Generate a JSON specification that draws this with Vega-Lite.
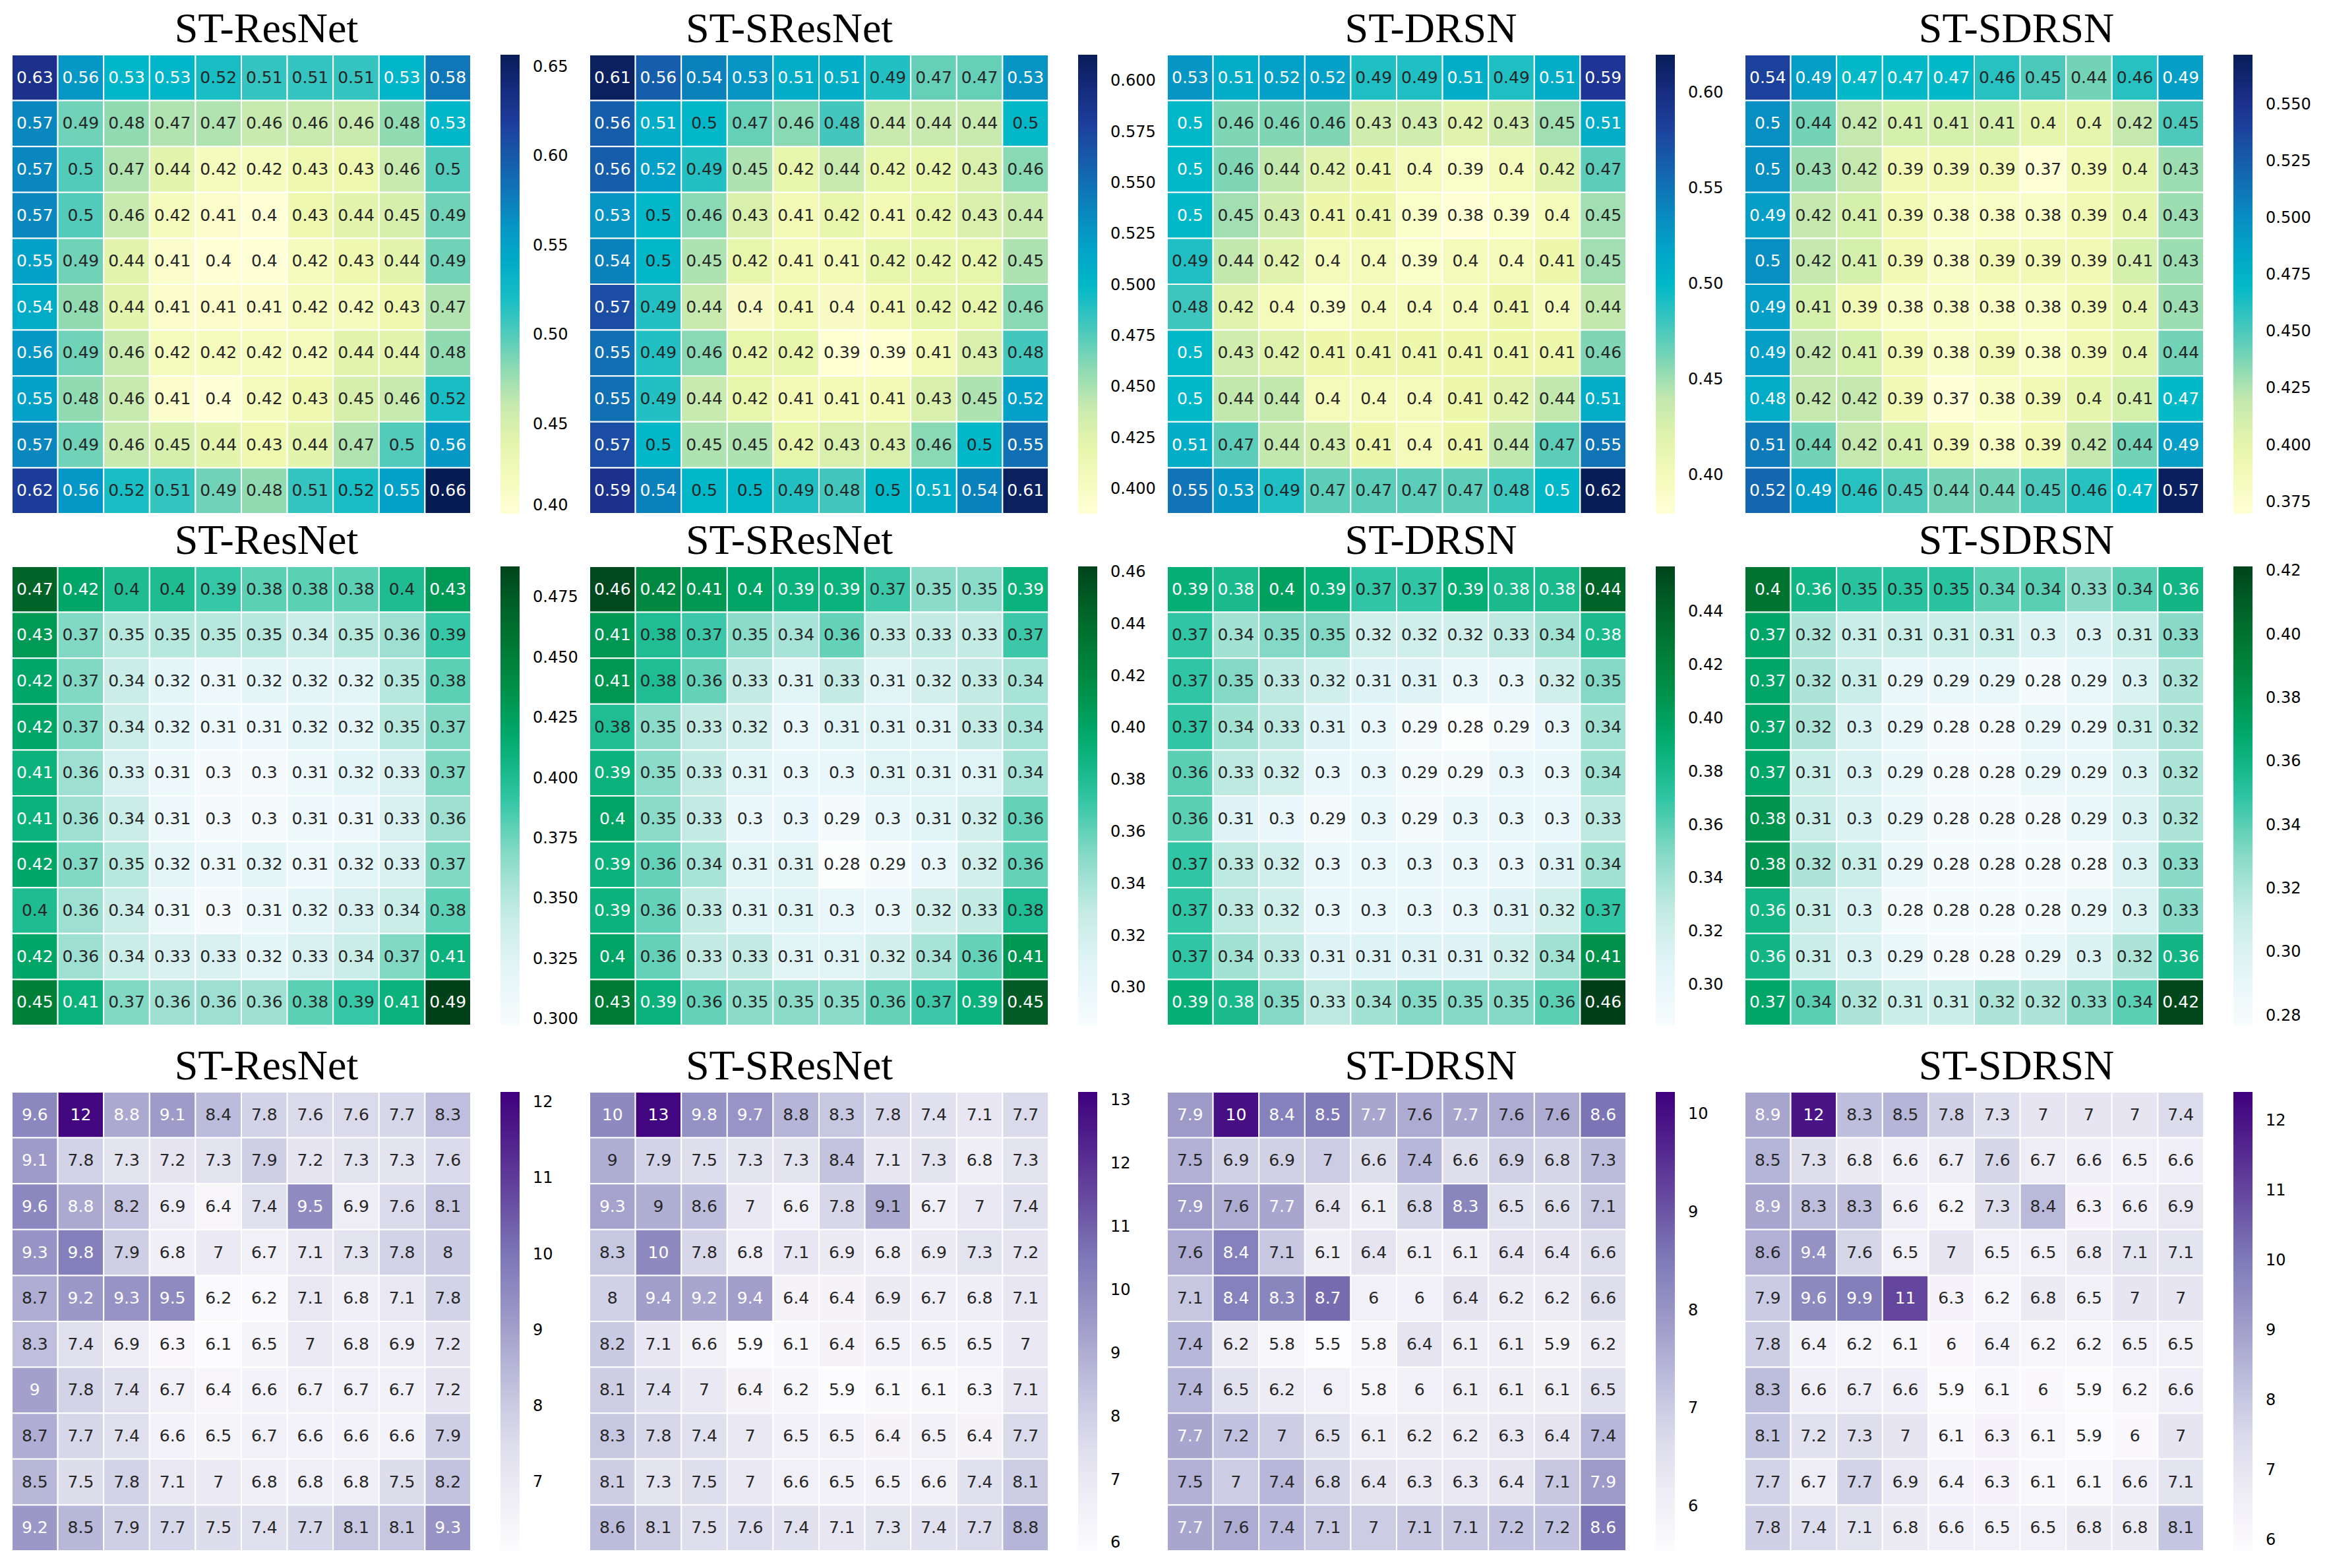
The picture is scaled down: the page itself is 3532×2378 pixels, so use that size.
{
"$schema":"https://vega.github.io/schema/vega-lite/v6.json",
"background":"white",
"padding":{"left":17,"top":13,"right":5,"bottom":5},
"datasets":{
"a1":[{"r":0,"c":0,"v":0.63},{"r":0,"c":1,"v":0.56},{"r":0,"c":2,"v":0.53},{"r":0,"c":3,"v":0.53},{"r":0,"c":4,"v":0.52},{"r":0,"c":5,"v":0.51},{"r":0,"c":6,"v":0.51},{"r":0,"c":7,"v":0.51},{"r":0,"c":8,"v":0.53},{"r":0,"c":9,"v":0.58},
{"r":1,"c":0,"v":0.57},{"r":1,"c":1,"v":0.49},{"r":1,"c":2,"v":0.48},{"r":1,"c":3,"v":0.47},{"r":1,"c":4,"v":0.47},{"r":1,"c":5,"v":0.46},{"r":1,"c":6,"v":0.46},{"r":1,"c":7,"v":0.46},{"r":1,"c":8,"v":0.48},{"r":1,"c":9,"v":0.53},
{"r":2,"c":0,"v":0.57},{"r":2,"c":1,"v":0.5},{"r":2,"c":2,"v":0.47},{"r":2,"c":3,"v":0.44},{"r":2,"c":4,"v":0.42},{"r":2,"c":5,"v":0.42},{"r":2,"c":6,"v":0.43},{"r":2,"c":7,"v":0.43},{"r":2,"c":8,"v":0.46},{"r":2,"c":9,"v":0.5},
{"r":3,"c":0,"v":0.57},{"r":3,"c":1,"v":0.5},{"r":3,"c":2,"v":0.46},{"r":3,"c":3,"v":0.42},{"r":3,"c":4,"v":0.41},{"r":3,"c":5,"v":0.4},{"r":3,"c":6,"v":0.43},{"r":3,"c":7,"v":0.44},{"r":3,"c":8,"v":0.45},{"r":3,"c":9,"v":0.49},
{"r":4,"c":0,"v":0.55},{"r":4,"c":1,"v":0.49},{"r":4,"c":2,"v":0.44},{"r":4,"c":3,"v":0.41},{"r":4,"c":4,"v":0.4},{"r":4,"c":5,"v":0.4},{"r":4,"c":6,"v":0.42},{"r":4,"c":7,"v":0.43},{"r":4,"c":8,"v":0.44},{"r":4,"c":9,"v":0.49},
{"r":5,"c":0,"v":0.54},{"r":5,"c":1,"v":0.48},{"r":5,"c":2,"v":0.44},{"r":5,"c":3,"v":0.41},{"r":5,"c":4,"v":0.41},{"r":5,"c":5,"v":0.41},{"r":5,"c":6,"v":0.42},{"r":5,"c":7,"v":0.42},{"r":5,"c":8,"v":0.43},{"r":5,"c":9,"v":0.47},
{"r":6,"c":0,"v":0.56},{"r":6,"c":1,"v":0.49},{"r":6,"c":2,"v":0.46},{"r":6,"c":3,"v":0.42},{"r":6,"c":4,"v":0.42},{"r":6,"c":5,"v":0.42},{"r":6,"c":6,"v":0.42},{"r":6,"c":7,"v":0.44},{"r":6,"c":8,"v":0.44},{"r":6,"c":9,"v":0.48},
{"r":7,"c":0,"v":0.55},{"r":7,"c":1,"v":0.48},{"r":7,"c":2,"v":0.46},{"r":7,"c":3,"v":0.41},{"r":7,"c":4,"v":0.4},{"r":7,"c":5,"v":0.42},{"r":7,"c":6,"v":0.43},{"r":7,"c":7,"v":0.45},{"r":7,"c":8,"v":0.46},{"r":7,"c":9,"v":0.52},
{"r":8,"c":0,"v":0.57},{"r":8,"c":1,"v":0.49},{"r":8,"c":2,"v":0.46},{"r":8,"c":3,"v":0.45},{"r":8,"c":4,"v":0.44},{"r":8,"c":5,"v":0.43},{"r":8,"c":6,"v":0.44},{"r":8,"c":7,"v":0.47},{"r":8,"c":8,"v":0.5},{"r":8,"c":9,"v":0.56},
{"r":9,"c":0,"v":0.62},{"r":9,"c":1,"v":0.56},{"r":9,"c":2,"v":0.52},{"r":9,"c":3,"v":0.51},{"r":9,"c":4,"v":0.49},{"r":9,"c":5,"v":0.48},{"r":9,"c":6,"v":0.51},{"r":9,"c":7,"v":0.52},{"r":9,"c":8,"v":0.55},{"r":9,"c":9,"v":0.66}],
"a2":[{"r":0,"c":0,"v":0.61},{"r":0,"c":1,"v":0.56},{"r":0,"c":2,"v":0.54},{"r":0,"c":3,"v":0.53},{"r":0,"c":4,"v":0.51},{"r":0,"c":5,"v":0.51},{"r":0,"c":6,"v":0.49},{"r":0,"c":7,"v":0.47},{"r":0,"c":8,"v":0.47},{"r":0,"c":9,"v":0.53},
{"r":1,"c":0,"v":0.56},{"r":1,"c":1,"v":0.51},{"r":1,"c":2,"v":0.5},{"r":1,"c":3,"v":0.47},{"r":1,"c":4,"v":0.46},{"r":1,"c":5,"v":0.48},{"r":1,"c":6,"v":0.44},{"r":1,"c":7,"v":0.44},{"r":1,"c":8,"v":0.44},{"r":1,"c":9,"v":0.5},
{"r":2,"c":0,"v":0.56},{"r":2,"c":1,"v":0.52},{"r":2,"c":2,"v":0.49},{"r":2,"c":3,"v":0.45},{"r":2,"c":4,"v":0.42},{"r":2,"c":5,"v":0.44},{"r":2,"c":6,"v":0.42},{"r":2,"c":7,"v":0.42},{"r":2,"c":8,"v":0.43},{"r":2,"c":9,"v":0.46},
{"r":3,"c":0,"v":0.53},{"r":3,"c":1,"v":0.5},{"r":3,"c":2,"v":0.46},{"r":3,"c":3,"v":0.43},{"r":3,"c":4,"v":0.41},{"r":3,"c":5,"v":0.42},{"r":3,"c":6,"v":0.41},{"r":3,"c":7,"v":0.42},{"r":3,"c":8,"v":0.43},{"r":3,"c":9,"v":0.44},
{"r":4,"c":0,"v":0.54},{"r":4,"c":1,"v":0.5},{"r":4,"c":2,"v":0.45},{"r":4,"c":3,"v":0.42},{"r":4,"c":4,"v":0.41},{"r":4,"c":5,"v":0.41},{"r":4,"c":6,"v":0.42},{"r":4,"c":7,"v":0.42},{"r":4,"c":8,"v":0.42},{"r":4,"c":9,"v":0.45},
{"r":5,"c":0,"v":0.57},{"r":5,"c":1,"v":0.49},{"r":5,"c":2,"v":0.44},{"r":5,"c":3,"v":0.4},{"r":5,"c":4,"v":0.41},{"r":5,"c":5,"v":0.4},{"r":5,"c":6,"v":0.41},{"r":5,"c":7,"v":0.42},{"r":5,"c":8,"v":0.42},{"r":5,"c":9,"v":0.46},
{"r":6,"c":0,"v":0.55},{"r":6,"c":1,"v":0.49},{"r":6,"c":2,"v":0.46},{"r":6,"c":3,"v":0.42},{"r":6,"c":4,"v":0.42},{"r":6,"c":5,"v":0.39},{"r":6,"c":6,"v":0.39},{"r":6,"c":7,"v":0.41},{"r":6,"c":8,"v":0.43},{"r":6,"c":9,"v":0.48},
{"r":7,"c":0,"v":0.55},{"r":7,"c":1,"v":0.49},{"r":7,"c":2,"v":0.44},{"r":7,"c":3,"v":0.42},{"r":7,"c":4,"v":0.41},{"r":7,"c":5,"v":0.41},{"r":7,"c":6,"v":0.41},{"r":7,"c":7,"v":0.43},{"r":7,"c":8,"v":0.45},{"r":7,"c":9,"v":0.52},
{"r":8,"c":0,"v":0.57},{"r":8,"c":1,"v":0.5},{"r":8,"c":2,"v":0.45},{"r":8,"c":3,"v":0.45},{"r":8,"c":4,"v":0.42},{"r":8,"c":5,"v":0.43},{"r":8,"c":6,"v":0.43},{"r":8,"c":7,"v":0.46},{"r":8,"c":8,"v":0.5},{"r":8,"c":9,"v":0.55},
{"r":9,"c":0,"v":0.59},{"r":9,"c":1,"v":0.54},{"r":9,"c":2,"v":0.5},{"r":9,"c":3,"v":0.5},{"r":9,"c":4,"v":0.49},{"r":9,"c":5,"v":0.48},{"r":9,"c":6,"v":0.5},{"r":9,"c":7,"v":0.51},{"r":9,"c":8,"v":0.54},{"r":9,"c":9,"v":0.61}],
"a3":[{"r":0,"c":0,"v":0.53},{"r":0,"c":1,"v":0.51},{"r":0,"c":2,"v":0.52},{"r":0,"c":3,"v":0.52},{"r":0,"c":4,"v":0.49},{"r":0,"c":5,"v":0.49},{"r":0,"c":6,"v":0.51},{"r":0,"c":7,"v":0.49},{"r":0,"c":8,"v":0.51},{"r":0,"c":9,"v":0.59},
{"r":1,"c":0,"v":0.5},{"r":1,"c":1,"v":0.46},{"r":1,"c":2,"v":0.46},{"r":1,"c":3,"v":0.46},{"r":1,"c":4,"v":0.43},{"r":1,"c":5,"v":0.43},{"r":1,"c":6,"v":0.42},{"r":1,"c":7,"v":0.43},{"r":1,"c":8,"v":0.45},{"r":1,"c":9,"v":0.51},
{"r":2,"c":0,"v":0.5},{"r":2,"c":1,"v":0.46},{"r":2,"c":2,"v":0.44},{"r":2,"c":3,"v":0.42},{"r":2,"c":4,"v":0.41},{"r":2,"c":5,"v":0.4},{"r":2,"c":6,"v":0.39},{"r":2,"c":7,"v":0.4},{"r":2,"c":8,"v":0.42},{"r":2,"c":9,"v":0.47},
{"r":3,"c":0,"v":0.5},{"r":3,"c":1,"v":0.45},{"r":3,"c":2,"v":0.43},{"r":3,"c":3,"v":0.41},{"r":3,"c":4,"v":0.41},{"r":3,"c":5,"v":0.39},{"r":3,"c":6,"v":0.38},{"r":3,"c":7,"v":0.39},{"r":3,"c":8,"v":0.4},{"r":3,"c":9,"v":0.45},
{"r":4,"c":0,"v":0.49},{"r":4,"c":1,"v":0.44},{"r":4,"c":2,"v":0.42},{"r":4,"c":3,"v":0.4},{"r":4,"c":4,"v":0.4},{"r":4,"c":5,"v":0.39},{"r":4,"c":6,"v":0.4},{"r":4,"c":7,"v":0.4},{"r":4,"c":8,"v":0.41},{"r":4,"c":9,"v":0.45},
{"r":5,"c":0,"v":0.48},{"r":5,"c":1,"v":0.42},{"r":5,"c":2,"v":0.4},{"r":5,"c":3,"v":0.39},{"r":5,"c":4,"v":0.4},{"r":5,"c":5,"v":0.4},{"r":5,"c":6,"v":0.4},{"r":5,"c":7,"v":0.41},{"r":5,"c":8,"v":0.4},{"r":5,"c":9,"v":0.44},
{"r":6,"c":0,"v":0.5},{"r":6,"c":1,"v":0.43},{"r":6,"c":2,"v":0.42},{"r":6,"c":3,"v":0.41},{"r":6,"c":4,"v":0.41},{"r":6,"c":5,"v":0.41},{"r":6,"c":6,"v":0.41},{"r":6,"c":7,"v":0.41},{"r":6,"c":8,"v":0.41},{"r":6,"c":9,"v":0.46},
{"r":7,"c":0,"v":0.5},{"r":7,"c":1,"v":0.44},{"r":7,"c":2,"v":0.44},{"r":7,"c":3,"v":0.4},{"r":7,"c":4,"v":0.4},{"r":7,"c":5,"v":0.4},{"r":7,"c":6,"v":0.41},{"r":7,"c":7,"v":0.42},{"r":7,"c":8,"v":0.44},{"r":7,"c":9,"v":0.51},
{"r":8,"c":0,"v":0.51},{"r":8,"c":1,"v":0.47},{"r":8,"c":2,"v":0.44},{"r":8,"c":3,"v":0.43},{"r":8,"c":4,"v":0.41},{"r":8,"c":5,"v":0.4},{"r":8,"c":6,"v":0.41},{"r":8,"c":7,"v":0.44},{"r":8,"c":8,"v":0.47},{"r":8,"c":9,"v":0.55},
{"r":9,"c":0,"v":0.55},{"r":9,"c":1,"v":0.53},{"r":9,"c":2,"v":0.49},{"r":9,"c":3,"v":0.47},{"r":9,"c":4,"v":0.47},{"r":9,"c":5,"v":0.47},{"r":9,"c":6,"v":0.47},{"r":9,"c":7,"v":0.48},{"r":9,"c":8,"v":0.5},{"r":9,"c":9,"v":0.62}],
"a4":[{"r":0,"c":0,"v":0.54},{"r":0,"c":1,"v":0.49},{"r":0,"c":2,"v":0.47},{"r":0,"c":3,"v":0.47},{"r":0,"c":4,"v":0.47},{"r":0,"c":5,"v":0.46},{"r":0,"c":6,"v":0.45},{"r":0,"c":7,"v":0.44},{"r":0,"c":8,"v":0.46},{"r":0,"c":9,"v":0.49},
{"r":1,"c":0,"v":0.5},{"r":1,"c":1,"v":0.44},{"r":1,"c":2,"v":0.42},{"r":1,"c":3,"v":0.41},{"r":1,"c":4,"v":0.41},{"r":1,"c":5,"v":0.41},{"r":1,"c":6,"v":0.4},{"r":1,"c":7,"v":0.4},{"r":1,"c":8,"v":0.42},{"r":1,"c":9,"v":0.45},
{"r":2,"c":0,"v":0.5},{"r":2,"c":1,"v":0.43},{"r":2,"c":2,"v":0.42},{"r":2,"c":3,"v":0.39},{"r":2,"c":4,"v":0.39},{"r":2,"c":5,"v":0.39},{"r":2,"c":6,"v":0.37},{"r":2,"c":7,"v":0.39},{"r":2,"c":8,"v":0.4},{"r":2,"c":9,"v":0.43},
{"r":3,"c":0,"v":0.49},{"r":3,"c":1,"v":0.42},{"r":3,"c":2,"v":0.41},{"r":3,"c":3,"v":0.39},{"r":3,"c":4,"v":0.38},{"r":3,"c":5,"v":0.38},{"r":3,"c":6,"v":0.38},{"r":3,"c":7,"v":0.39},{"r":3,"c":8,"v":0.4},{"r":3,"c":9,"v":0.43},
{"r":4,"c":0,"v":0.5},{"r":4,"c":1,"v":0.42},{"r":4,"c":2,"v":0.41},{"r":4,"c":3,"v":0.39},{"r":4,"c":4,"v":0.38},{"r":4,"c":5,"v":0.39},{"r":4,"c":6,"v":0.39},{"r":4,"c":7,"v":0.39},{"r":4,"c":8,"v":0.41},{"r":4,"c":9,"v":0.43},
{"r":5,"c":0,"v":0.49},{"r":5,"c":1,"v":0.41},{"r":5,"c":2,"v":0.39},{"r":5,"c":3,"v":0.38},{"r":5,"c":4,"v":0.38},{"r":5,"c":5,"v":0.38},{"r":5,"c":6,"v":0.38},{"r":5,"c":7,"v":0.39},{"r":5,"c":8,"v":0.4},{"r":5,"c":9,"v":0.43},
{"r":6,"c":0,"v":0.49},{"r":6,"c":1,"v":0.42},{"r":6,"c":2,"v":0.41},{"r":6,"c":3,"v":0.39},{"r":6,"c":4,"v":0.38},{"r":6,"c":5,"v":0.39},{"r":6,"c":6,"v":0.38},{"r":6,"c":7,"v":0.39},{"r":6,"c":8,"v":0.4},{"r":6,"c":9,"v":0.44},
{"r":7,"c":0,"v":0.48},{"r":7,"c":1,"v":0.42},{"r":7,"c":2,"v":0.42},{"r":7,"c":3,"v":0.39},{"r":7,"c":4,"v":0.37},{"r":7,"c":5,"v":0.38},{"r":7,"c":6,"v":0.39},{"r":7,"c":7,"v":0.4},{"r":7,"c":8,"v":0.41},{"r":7,"c":9,"v":0.47},
{"r":8,"c":0,"v":0.51},{"r":8,"c":1,"v":0.44},{"r":8,"c":2,"v":0.42},{"r":8,"c":3,"v":0.41},{"r":8,"c":4,"v":0.39},{"r":8,"c":5,"v":0.38},{"r":8,"c":6,"v":0.39},{"r":8,"c":7,"v":0.42},{"r":8,"c":8,"v":0.44},{"r":8,"c":9,"v":0.49},
{"r":9,"c":0,"v":0.52},{"r":9,"c":1,"v":0.49},{"r":9,"c":2,"v":0.46},{"r":9,"c":3,"v":0.45},{"r":9,"c":4,"v":0.44},{"r":9,"c":5,"v":0.44},{"r":9,"c":6,"v":0.45},{"r":9,"c":7,"v":0.46},{"r":9,"c":8,"v":0.47},{"r":9,"c":9,"v":0.57}],
"b1":[{"r":0,"c":0,"v":0.47},{"r":0,"c":1,"v":0.42},{"r":0,"c":2,"v":0.4},{"r":0,"c":3,"v":0.4},{"r":0,"c":4,"v":0.39},{"r":0,"c":5,"v":0.38},{"r":0,"c":6,"v":0.38},{"r":0,"c":7,"v":0.38},{"r":0,"c":8,"v":0.4},{"r":0,"c":9,"v":0.43},
{"r":1,"c":0,"v":0.43},{"r":1,"c":1,"v":0.37},{"r":1,"c":2,"v":0.35},{"r":1,"c":3,"v":0.35},{"r":1,"c":4,"v":0.35},{"r":1,"c":5,"v":0.35},{"r":1,"c":6,"v":0.34},{"r":1,"c":7,"v":0.35},{"r":1,"c":8,"v":0.36},{"r":1,"c":9,"v":0.39},
{"r":2,"c":0,"v":0.42},{"r":2,"c":1,"v":0.37},{"r":2,"c":2,"v":0.34},{"r":2,"c":3,"v":0.32},{"r":2,"c":4,"v":0.31},{"r":2,"c":5,"v":0.32},{"r":2,"c":6,"v":0.32},{"r":2,"c":7,"v":0.32},{"r":2,"c":8,"v":0.35},{"r":2,"c":9,"v":0.38},
{"r":3,"c":0,"v":0.42},{"r":3,"c":1,"v":0.37},{"r":3,"c":2,"v":0.34},{"r":3,"c":3,"v":0.32},{"r":3,"c":4,"v":0.31},{"r":3,"c":5,"v":0.31},{"r":3,"c":6,"v":0.32},{"r":3,"c":7,"v":0.32},{"r":3,"c":8,"v":0.35},{"r":3,"c":9,"v":0.37},
{"r":4,"c":0,"v":0.41},{"r":4,"c":1,"v":0.36},{"r":4,"c":2,"v":0.33},{"r":4,"c":3,"v":0.31},{"r":4,"c":4,"v":0.3},{"r":4,"c":5,"v":0.3},{"r":4,"c":6,"v":0.31},{"r":4,"c":7,"v":0.32},{"r":4,"c":8,"v":0.33},{"r":4,"c":9,"v":0.37},
{"r":5,"c":0,"v":0.41},{"r":5,"c":1,"v":0.36},{"r":5,"c":2,"v":0.34},{"r":5,"c":3,"v":0.31},{"r":5,"c":4,"v":0.3},{"r":5,"c":5,"v":0.3},{"r":5,"c":6,"v":0.31},{"r":5,"c":7,"v":0.31},{"r":5,"c":8,"v":0.33},{"r":5,"c":9,"v":0.36},
{"r":6,"c":0,"v":0.42},{"r":6,"c":1,"v":0.37},{"r":6,"c":2,"v":0.35},{"r":6,"c":3,"v":0.32},{"r":6,"c":4,"v":0.31},{"r":6,"c":5,"v":0.32},{"r":6,"c":6,"v":0.31},{"r":6,"c":7,"v":0.32},{"r":6,"c":8,"v":0.33},{"r":6,"c":9,"v":0.37},
{"r":7,"c":0,"v":0.4},{"r":7,"c":1,"v":0.36},{"r":7,"c":2,"v":0.34},{"r":7,"c":3,"v":0.31},{"r":7,"c":4,"v":0.3},{"r":7,"c":5,"v":0.31},{"r":7,"c":6,"v":0.32},{"r":7,"c":7,"v":0.33},{"r":7,"c":8,"v":0.34},{"r":7,"c":9,"v":0.38},
{"r":8,"c":0,"v":0.42},{"r":8,"c":1,"v":0.36},{"r":8,"c":2,"v":0.34},{"r":8,"c":3,"v":0.33},{"r":8,"c":4,"v":0.33},{"r":8,"c":5,"v":0.32},{"r":8,"c":6,"v":0.33},{"r":8,"c":7,"v":0.34},{"r":8,"c":8,"v":0.37},{"r":8,"c":9,"v":0.41},
{"r":9,"c":0,"v":0.45},{"r":9,"c":1,"v":0.41},{"r":9,"c":2,"v":0.37},{"r":9,"c":3,"v":0.36},{"r":9,"c":4,"v":0.36},{"r":9,"c":5,"v":0.36},{"r":9,"c":6,"v":0.38},{"r":9,"c":7,"v":0.39},{"r":9,"c":8,"v":0.41},{"r":9,"c":9,"v":0.49}],
"b2":[{"r":0,"c":0,"v":0.46},{"r":0,"c":1,"v":0.42},{"r":0,"c":2,"v":0.41},{"r":0,"c":3,"v":0.4},{"r":0,"c":4,"v":0.39},{"r":0,"c":5,"v":0.39},{"r":0,"c":6,"v":0.37},{"r":0,"c":7,"v":0.35},{"r":0,"c":8,"v":0.35},{"r":0,"c":9,"v":0.39},
{"r":1,"c":0,"v":0.41},{"r":1,"c":1,"v":0.38},{"r":1,"c":2,"v":0.37},{"r":1,"c":3,"v":0.35},{"r":1,"c":4,"v":0.34},{"r":1,"c":5,"v":0.36},{"r":1,"c":6,"v":0.33},{"r":1,"c":7,"v":0.33},{"r":1,"c":8,"v":0.33},{"r":1,"c":9,"v":0.37},
{"r":2,"c":0,"v":0.41},{"r":2,"c":1,"v":0.38},{"r":2,"c":2,"v":0.36},{"r":2,"c":3,"v":0.33},{"r":2,"c":4,"v":0.31},{"r":2,"c":5,"v":0.33},{"r":2,"c":6,"v":0.31},{"r":2,"c":7,"v":0.32},{"r":2,"c":8,"v":0.33},{"r":2,"c":9,"v":0.34},
{"r":3,"c":0,"v":0.38},{"r":3,"c":1,"v":0.35},{"r":3,"c":2,"v":0.33},{"r":3,"c":3,"v":0.32},{"r":3,"c":4,"v":0.3},{"r":3,"c":5,"v":0.31},{"r":3,"c":6,"v":0.31},{"r":3,"c":7,"v":0.31},{"r":3,"c":8,"v":0.33},{"r":3,"c":9,"v":0.34},
{"r":4,"c":0,"v":0.39},{"r":4,"c":1,"v":0.35},{"r":4,"c":2,"v":0.33},{"r":4,"c":3,"v":0.31},{"r":4,"c":4,"v":0.3},{"r":4,"c":5,"v":0.3},{"r":4,"c":6,"v":0.31},{"r":4,"c":7,"v":0.31},{"r":4,"c":8,"v":0.31},{"r":4,"c":9,"v":0.34},
{"r":5,"c":0,"v":0.4},{"r":5,"c":1,"v":0.35},{"r":5,"c":2,"v":0.33},{"r":5,"c":3,"v":0.3},{"r":5,"c":4,"v":0.3},{"r":5,"c":5,"v":0.29},{"r":5,"c":6,"v":0.3},{"r":5,"c":7,"v":0.31},{"r":5,"c":8,"v":0.32},{"r":5,"c":9,"v":0.36},
{"r":6,"c":0,"v":0.39},{"r":6,"c":1,"v":0.36},{"r":6,"c":2,"v":0.34},{"r":6,"c":3,"v":0.31},{"r":6,"c":4,"v":0.31},{"r":6,"c":5,"v":0.28},{"r":6,"c":6,"v":0.29},{"r":6,"c":7,"v":0.3},{"r":6,"c":8,"v":0.32},{"r":6,"c":9,"v":0.36},
{"r":7,"c":0,"v":0.39},{"r":7,"c":1,"v":0.36},{"r":7,"c":2,"v":0.33},{"r":7,"c":3,"v":0.31},{"r":7,"c":4,"v":0.31},{"r":7,"c":5,"v":0.3},{"r":7,"c":6,"v":0.3},{"r":7,"c":7,"v":0.32},{"r":7,"c":8,"v":0.33},{"r":7,"c":9,"v":0.38},
{"r":8,"c":0,"v":0.4},{"r":8,"c":1,"v":0.36},{"r":8,"c":2,"v":0.33},{"r":8,"c":3,"v":0.33},{"r":8,"c":4,"v":0.31},{"r":8,"c":5,"v":0.31},{"r":8,"c":6,"v":0.32},{"r":8,"c":7,"v":0.34},{"r":8,"c":8,"v":0.36},{"r":8,"c":9,"v":0.41},
{"r":9,"c":0,"v":0.43},{"r":9,"c":1,"v":0.39},{"r":9,"c":2,"v":0.36},{"r":9,"c":3,"v":0.35},{"r":9,"c":4,"v":0.35},{"r":9,"c":5,"v":0.35},{"r":9,"c":6,"v":0.36},{"r":9,"c":7,"v":0.37},{"r":9,"c":8,"v":0.39},{"r":9,"c":9,"v":0.45}],
"b3":[{"r":0,"c":0,"v":0.39},{"r":0,"c":1,"v":0.38},{"r":0,"c":2,"v":0.4},{"r":0,"c":3,"v":0.39},{"r":0,"c":4,"v":0.37},{"r":0,"c":5,"v":0.37},{"r":0,"c":6,"v":0.39},{"r":0,"c":7,"v":0.38},{"r":0,"c":8,"v":0.38},{"r":0,"c":9,"v":0.44},
{"r":1,"c":0,"v":0.37},{"r":1,"c":1,"v":0.34},{"r":1,"c":2,"v":0.35},{"r":1,"c":3,"v":0.35},{"r":1,"c":4,"v":0.32},{"r":1,"c":5,"v":0.32},{"r":1,"c":6,"v":0.32},{"r":1,"c":7,"v":0.33},{"r":1,"c":8,"v":0.34},{"r":1,"c":9,"v":0.38},
{"r":2,"c":0,"v":0.37},{"r":2,"c":1,"v":0.35},{"r":2,"c":2,"v":0.33},{"r":2,"c":3,"v":0.32},{"r":2,"c":4,"v":0.31},{"r":2,"c":5,"v":0.31},{"r":2,"c":6,"v":0.3},{"r":2,"c":7,"v":0.3},{"r":2,"c":8,"v":0.32},{"r":2,"c":9,"v":0.35},
{"r":3,"c":0,"v":0.37},{"r":3,"c":1,"v":0.34},{"r":3,"c":2,"v":0.33},{"r":3,"c":3,"v":0.31},{"r":3,"c":4,"v":0.3},{"r":3,"c":5,"v":0.29},{"r":3,"c":6,"v":0.28},{"r":3,"c":7,"v":0.29},{"r":3,"c":8,"v":0.3},{"r":3,"c":9,"v":0.34},
{"r":4,"c":0,"v":0.36},{"r":4,"c":1,"v":0.33},{"r":4,"c":2,"v":0.32},{"r":4,"c":3,"v":0.3},{"r":4,"c":4,"v":0.3},{"r":4,"c":5,"v":0.29},{"r":4,"c":6,"v":0.29},{"r":4,"c":7,"v":0.3},{"r":4,"c":8,"v":0.3},{"r":4,"c":9,"v":0.34},
{"r":5,"c":0,"v":0.36},{"r":5,"c":1,"v":0.31},{"r":5,"c":2,"v":0.3},{"r":5,"c":3,"v":0.29},{"r":5,"c":4,"v":0.3},{"r":5,"c":5,"v":0.29},{"r":5,"c":6,"v":0.3},{"r":5,"c":7,"v":0.3},{"r":5,"c":8,"v":0.3},{"r":5,"c":9,"v":0.33},
{"r":6,"c":0,"v":0.37},{"r":6,"c":1,"v":0.33},{"r":6,"c":2,"v":0.32},{"r":6,"c":3,"v":0.3},{"r":6,"c":4,"v":0.3},{"r":6,"c":5,"v":0.3},{"r":6,"c":6,"v":0.3},{"r":6,"c":7,"v":0.3},{"r":6,"c":8,"v":0.31},{"r":6,"c":9,"v":0.34},
{"r":7,"c":0,"v":0.37},{"r":7,"c":1,"v":0.33},{"r":7,"c":2,"v":0.32},{"r":7,"c":3,"v":0.3},{"r":7,"c":4,"v":0.3},{"r":7,"c":5,"v":0.3},{"r":7,"c":6,"v":0.3},{"r":7,"c":7,"v":0.31},{"r":7,"c":8,"v":0.32},{"r":7,"c":9,"v":0.37},
{"r":8,"c":0,"v":0.37},{"r":8,"c":1,"v":0.34},{"r":8,"c":2,"v":0.33},{"r":8,"c":3,"v":0.31},{"r":8,"c":4,"v":0.31},{"r":8,"c":5,"v":0.31},{"r":8,"c":6,"v":0.31},{"r":8,"c":7,"v":0.32},{"r":8,"c":8,"v":0.34},{"r":8,"c":9,"v":0.41},
{"r":9,"c":0,"v":0.39},{"r":9,"c":1,"v":0.38},{"r":9,"c":2,"v":0.35},{"r":9,"c":3,"v":0.33},{"r":9,"c":4,"v":0.34},{"r":9,"c":5,"v":0.35},{"r":9,"c":6,"v":0.35},{"r":9,"c":7,"v":0.35},{"r":9,"c":8,"v":0.36},{"r":9,"c":9,"v":0.46}],
"b4":[{"r":0,"c":0,"v":0.4},{"r":0,"c":1,"v":0.36},{"r":0,"c":2,"v":0.35},{"r":0,"c":3,"v":0.35},{"r":0,"c":4,"v":0.35},{"r":0,"c":5,"v":0.34},{"r":0,"c":6,"v":0.34},{"r":0,"c":7,"v":0.33},{"r":0,"c":8,"v":0.34},{"r":0,"c":9,"v":0.36},
{"r":1,"c":0,"v":0.37},{"r":1,"c":1,"v":0.32},{"r":1,"c":2,"v":0.31},{"r":1,"c":3,"v":0.31},{"r":1,"c":4,"v":0.31},{"r":1,"c":5,"v":0.31},{"r":1,"c":6,"v":0.3},{"r":1,"c":7,"v":0.3},{"r":1,"c":8,"v":0.31},{"r":1,"c":9,"v":0.33},
{"r":2,"c":0,"v":0.37},{"r":2,"c":1,"v":0.32},{"r":2,"c":2,"v":0.31},{"r":2,"c":3,"v":0.29},{"r":2,"c":4,"v":0.29},{"r":2,"c":5,"v":0.29},{"r":2,"c":6,"v":0.28},{"r":2,"c":7,"v":0.29},{"r":2,"c":8,"v":0.3},{"r":2,"c":9,"v":0.32},
{"r":3,"c":0,"v":0.37},{"r":3,"c":1,"v":0.32},{"r":3,"c":2,"v":0.3},{"r":3,"c":3,"v":0.29},{"r":3,"c":4,"v":0.28},{"r":3,"c":5,"v":0.28},{"r":3,"c":6,"v":0.29},{"r":3,"c":7,"v":0.29},{"r":3,"c":8,"v":0.31},{"r":3,"c":9,"v":0.32},
{"r":4,"c":0,"v":0.37},{"r":4,"c":1,"v":0.31},{"r":4,"c":2,"v":0.3},{"r":4,"c":3,"v":0.29},{"r":4,"c":4,"v":0.28},{"r":4,"c":5,"v":0.28},{"r":4,"c":6,"v":0.29},{"r":4,"c":7,"v":0.29},{"r":4,"c":8,"v":0.3},{"r":4,"c":9,"v":0.32},
{"r":5,"c":0,"v":0.38},{"r":5,"c":1,"v":0.31},{"r":5,"c":2,"v":0.3},{"r":5,"c":3,"v":0.29},{"r":5,"c":4,"v":0.28},{"r":5,"c":5,"v":0.28},{"r":5,"c":6,"v":0.28},{"r":5,"c":7,"v":0.29},{"r":5,"c":8,"v":0.3},{"r":5,"c":9,"v":0.32},
{"r":6,"c":0,"v":0.38},{"r":6,"c":1,"v":0.32},{"r":6,"c":2,"v":0.31},{"r":6,"c":3,"v":0.29},{"r":6,"c":4,"v":0.28},{"r":6,"c":5,"v":0.28},{"r":6,"c":6,"v":0.28},{"r":6,"c":7,"v":0.28},{"r":6,"c":8,"v":0.3},{"r":6,"c":9,"v":0.33},
{"r":7,"c":0,"v":0.36},{"r":7,"c":1,"v":0.31},{"r":7,"c":2,"v":0.3},{"r":7,"c":3,"v":0.28},{"r":7,"c":4,"v":0.28},{"r":7,"c":5,"v":0.28},{"r":7,"c":6,"v":0.28},{"r":7,"c":7,"v":0.29},{"r":7,"c":8,"v":0.3},{"r":7,"c":9,"v":0.33},
{"r":8,"c":0,"v":0.36},{"r":8,"c":1,"v":0.31},{"r":8,"c":2,"v":0.3},{"r":8,"c":3,"v":0.29},{"r":8,"c":4,"v":0.28},{"r":8,"c":5,"v":0.28},{"r":8,"c":6,"v":0.29},{"r":8,"c":7,"v":0.3},{"r":8,"c":8,"v":0.32},{"r":8,"c":9,"v":0.36},
{"r":9,"c":0,"v":0.37},{"r":9,"c":1,"v":0.34},{"r":9,"c":2,"v":0.32},{"r":9,"c":3,"v":0.31},{"r":9,"c":4,"v":0.31},{"r":9,"c":5,"v":0.32},{"r":9,"c":6,"v":0.32},{"r":9,"c":7,"v":0.33},{"r":9,"c":8,"v":0.34},{"r":9,"c":9,"v":0.42}],
"c1":[{"r":0,"c":0,"v":9.6},{"r":0,"c":1,"v":12},{"r":0,"c":2,"v":8.8},{"r":0,"c":3,"v":9.1},{"r":0,"c":4,"v":8.4},{"r":0,"c":5,"v":7.8},{"r":0,"c":6,"v":7.6},{"r":0,"c":7,"v":7.6},{"r":0,"c":8,"v":7.7},{"r":0,"c":9,"v":8.3},
{"r":1,"c":0,"v":9.1},{"r":1,"c":1,"v":7.8},{"r":1,"c":2,"v":7.3},{"r":1,"c":3,"v":7.2},{"r":1,"c":4,"v":7.3},{"r":1,"c":5,"v":7.9},{"r":1,"c":6,"v":7.2},{"r":1,"c":7,"v":7.3},{"r":1,"c":8,"v":7.3},{"r":1,"c":9,"v":7.6},
{"r":2,"c":0,"v":9.6},{"r":2,"c":1,"v":8.8},{"r":2,"c":2,"v":8.2},{"r":2,"c":3,"v":6.9},{"r":2,"c":4,"v":6.4},{"r":2,"c":5,"v":7.4},{"r":2,"c":6,"v":9.5},{"r":2,"c":7,"v":6.9},{"r":2,"c":8,"v":7.6},{"r":2,"c":9,"v":8.1},
{"r":3,"c":0,"v":9.3},{"r":3,"c":1,"v":9.8},{"r":3,"c":2,"v":7.9},{"r":3,"c":3,"v":6.8},{"r":3,"c":4,"v":7},{"r":3,"c":5,"v":6.7},{"r":3,"c":6,"v":7.1},{"r":3,"c":7,"v":7.3},{"r":3,"c":8,"v":7.8},{"r":3,"c":9,"v":8},
{"r":4,"c":0,"v":8.7},{"r":4,"c":1,"v":9.2},{"r":4,"c":2,"v":9.3},{"r":4,"c":3,"v":9.5},{"r":4,"c":4,"v":6.2},{"r":4,"c":5,"v":6.2},{"r":4,"c":6,"v":7.1},{"r":4,"c":7,"v":6.8},{"r":4,"c":8,"v":7.1},{"r":4,"c":9,"v":7.8},
{"r":5,"c":0,"v":8.3},{"r":5,"c":1,"v":7.4},{"r":5,"c":2,"v":6.9},{"r":5,"c":3,"v":6.3},{"r":5,"c":4,"v":6.1},{"r":5,"c":5,"v":6.5},{"r":5,"c":6,"v":7},{"r":5,"c":7,"v":6.8},{"r":5,"c":8,"v":6.9},{"r":5,"c":9,"v":7.2},
{"r":6,"c":0,"v":9},{"r":6,"c":1,"v":7.8},{"r":6,"c":2,"v":7.4},{"r":6,"c":3,"v":6.7},{"r":6,"c":4,"v":6.4},{"r":6,"c":5,"v":6.6},{"r":6,"c":6,"v":6.7},{"r":6,"c":7,"v":6.7},{"r":6,"c":8,"v":6.7},{"r":6,"c":9,"v":7.2},
{"r":7,"c":0,"v":8.7},{"r":7,"c":1,"v":7.7},{"r":7,"c":2,"v":7.4},{"r":7,"c":3,"v":6.6},{"r":7,"c":4,"v":6.5},{"r":7,"c":5,"v":6.7},{"r":7,"c":6,"v":6.6},{"r":7,"c":7,"v":6.6},{"r":7,"c":8,"v":6.6},{"r":7,"c":9,"v":7.9},
{"r":8,"c":0,"v":8.5},{"r":8,"c":1,"v":7.5},{"r":8,"c":2,"v":7.8},{"r":8,"c":3,"v":7.1},{"r":8,"c":4,"v":7},{"r":8,"c":5,"v":6.8},{"r":8,"c":6,"v":6.8},{"r":8,"c":7,"v":6.8},{"r":8,"c":8,"v":7.5},{"r":8,"c":9,"v":8.2},
{"r":9,"c":0,"v":9.2},{"r":9,"c":1,"v":8.5},{"r":9,"c":2,"v":7.9},{"r":9,"c":3,"v":7.7},{"r":9,"c":4,"v":7.5},{"r":9,"c":5,"v":7.4},{"r":9,"c":6,"v":7.7},{"r":9,"c":7,"v":8.1},{"r":9,"c":8,"v":8.1},{"r":9,"c":9,"v":9.3}],
"c2":[{"r":0,"c":0,"v":10},{"r":0,"c":1,"v":13},{"r":0,"c":2,"v":9.8},{"r":0,"c":3,"v":9.7},{"r":0,"c":4,"v":8.8},{"r":0,"c":5,"v":8.3},{"r":0,"c":6,"v":7.8},{"r":0,"c":7,"v":7.4},{"r":0,"c":8,"v":7.1},{"r":0,"c":9,"v":7.7},
{"r":1,"c":0,"v":9},{"r":1,"c":1,"v":7.9},{"r":1,"c":2,"v":7.5},{"r":1,"c":3,"v":7.3},{"r":1,"c":4,"v":7.3},{"r":1,"c":5,"v":8.4},{"r":1,"c":6,"v":7.1},{"r":1,"c":7,"v":7.3},{"r":1,"c":8,"v":6.8},{"r":1,"c":9,"v":7.3},
{"r":2,"c":0,"v":9.3},{"r":2,"c":1,"v":9},{"r":2,"c":2,"v":8.6},{"r":2,"c":3,"v":7},{"r":2,"c":4,"v":6.6},{"r":2,"c":5,"v":7.8},{"r":2,"c":6,"v":9.1},{"r":2,"c":7,"v":6.7},{"r":2,"c":8,"v":7},{"r":2,"c":9,"v":7.4},
{"r":3,"c":0,"v":8.3},{"r":3,"c":1,"v":10},{"r":3,"c":2,"v":7.8},{"r":3,"c":3,"v":6.8},{"r":3,"c":4,"v":7.1},{"r":3,"c":5,"v":6.9},{"r":3,"c":6,"v":6.8},{"r":3,"c":7,"v":6.9},{"r":3,"c":8,"v":7.3},{"r":3,"c":9,"v":7.2},
{"r":4,"c":0,"v":8},{"r":4,"c":1,"v":9.4},{"r":4,"c":2,"v":9.2},{"r":4,"c":3,"v":9.4},{"r":4,"c":4,"v":6.4},{"r":4,"c":5,"v":6.4},{"r":4,"c":6,"v":6.9},{"r":4,"c":7,"v":6.7},{"r":4,"c":8,"v":6.8},{"r":4,"c":9,"v":7.1},
{"r":5,"c":0,"v":8.2},{"r":5,"c":1,"v":7.1},{"r":5,"c":2,"v":6.6},{"r":5,"c":3,"v":5.9},{"r":5,"c":4,"v":6.1},{"r":5,"c":5,"v":6.4},{"r":5,"c":6,"v":6.5},{"r":5,"c":7,"v":6.5},{"r":5,"c":8,"v":6.5},{"r":5,"c":9,"v":7},
{"r":6,"c":0,"v":8.1},{"r":6,"c":1,"v":7.4},{"r":6,"c":2,"v":7},{"r":6,"c":3,"v":6.4},{"r":6,"c":4,"v":6.2},{"r":6,"c":5,"v":5.9},{"r":6,"c":6,"v":6.1},{"r":6,"c":7,"v":6.1},{"r":6,"c":8,"v":6.3},{"r":6,"c":9,"v":7.1},
{"r":7,"c":0,"v":8.3},{"r":7,"c":1,"v":7.8},{"r":7,"c":2,"v":7.4},{"r":7,"c":3,"v":7},{"r":7,"c":4,"v":6.5},{"r":7,"c":5,"v":6.5},{"r":7,"c":6,"v":6.4},{"r":7,"c":7,"v":6.5},{"r":7,"c":8,"v":6.4},{"r":7,"c":9,"v":7.7},
{"r":8,"c":0,"v":8.1},{"r":8,"c":1,"v":7.3},{"r":8,"c":2,"v":7.5},{"r":8,"c":3,"v":7},{"r":8,"c":4,"v":6.6},{"r":8,"c":5,"v":6.5},{"r":8,"c":6,"v":6.5},{"r":8,"c":7,"v":6.6},{"r":8,"c":8,"v":7.4},{"r":8,"c":9,"v":8.1},
{"r":9,"c":0,"v":8.6},{"r":9,"c":1,"v":8.1},{"r":9,"c":2,"v":7.5},{"r":9,"c":3,"v":7.6},{"r":9,"c":4,"v":7.4},{"r":9,"c":5,"v":7.1},{"r":9,"c":6,"v":7.3},{"r":9,"c":7,"v":7.4},{"r":9,"c":8,"v":7.7},{"r":9,"c":9,"v":8.8}],
"c3":[{"r":0,"c":0,"v":7.9},{"r":0,"c":1,"v":10},{"r":0,"c":2,"v":8.4},{"r":0,"c":3,"v":8.5},{"r":0,"c":4,"v":7.7},{"r":0,"c":5,"v":7.6},{"r":0,"c":6,"v":7.7},{"r":0,"c":7,"v":7.6},{"r":0,"c":8,"v":7.6},{"r":0,"c":9,"v":8.6},
{"r":1,"c":0,"v":7.5},{"r":1,"c":1,"v":6.9},{"r":1,"c":2,"v":6.9},{"r":1,"c":3,"v":7},{"r":1,"c":4,"v":6.6},{"r":1,"c":5,"v":7.4},{"r":1,"c":6,"v":6.6},{"r":1,"c":7,"v":6.9},{"r":1,"c":8,"v":6.8},{"r":1,"c":9,"v":7.3},
{"r":2,"c":0,"v":7.9},{"r":2,"c":1,"v":7.6},{"r":2,"c":2,"v":7.7},{"r":2,"c":3,"v":6.4},{"r":2,"c":4,"v":6.1},{"r":2,"c":5,"v":6.8},{"r":2,"c":6,"v":8.3},{"r":2,"c":7,"v":6.5},{"r":2,"c":8,"v":6.6},{"r":2,"c":9,"v":7.1},
{"r":3,"c":0,"v":7.6},{"r":3,"c":1,"v":8.4},{"r":3,"c":2,"v":7.1},{"r":3,"c":3,"v":6.1},{"r":3,"c":4,"v":6.4},{"r":3,"c":5,"v":6.1},{"r":3,"c":6,"v":6.1},{"r":3,"c":7,"v":6.4},{"r":3,"c":8,"v":6.4},{"r":3,"c":9,"v":6.6},
{"r":4,"c":0,"v":7.1},{"r":4,"c":1,"v":8.4},{"r":4,"c":2,"v":8.3},{"r":4,"c":3,"v":8.7},{"r":4,"c":4,"v":6},{"r":4,"c":5,"v":6},{"r":4,"c":6,"v":6.4},{"r":4,"c":7,"v":6.2},{"r":4,"c":8,"v":6.2},{"r":4,"c":9,"v":6.6},
{"r":5,"c":0,"v":7.4},{"r":5,"c":1,"v":6.2},{"r":5,"c":2,"v":5.8},{"r":5,"c":3,"v":5.5},{"r":5,"c":4,"v":5.8},{"r":5,"c":5,"v":6.4},{"r":5,"c":6,"v":6.1},{"r":5,"c":7,"v":6.1},{"r":5,"c":8,"v":5.9},{"r":5,"c":9,"v":6.2},
{"r":6,"c":0,"v":7.4},{"r":6,"c":1,"v":6.5},{"r":6,"c":2,"v":6.2},{"r":6,"c":3,"v":6},{"r":6,"c":4,"v":5.8},{"r":6,"c":5,"v":6},{"r":6,"c":6,"v":6.1},{"r":6,"c":7,"v":6.1},{"r":6,"c":8,"v":6.1},{"r":6,"c":9,"v":6.5},
{"r":7,"c":0,"v":7.7},{"r":7,"c":1,"v":7.2},{"r":7,"c":2,"v":7},{"r":7,"c":3,"v":6.5},{"r":7,"c":4,"v":6.1},{"r":7,"c":5,"v":6.2},{"r":7,"c":6,"v":6.2},{"r":7,"c":7,"v":6.3},{"r":7,"c":8,"v":6.4},{"r":7,"c":9,"v":7.4},
{"r":8,"c":0,"v":7.5},{"r":8,"c":1,"v":7},{"r":8,"c":2,"v":7.4},{"r":8,"c":3,"v":6.8},{"r":8,"c":4,"v":6.4},{"r":8,"c":5,"v":6.3},{"r":8,"c":6,"v":6.3},{"r":8,"c":7,"v":6.4},{"r":8,"c":8,"v":7.1},{"r":8,"c":9,"v":7.9},
{"r":9,"c":0,"v":7.7},{"r":9,"c":1,"v":7.6},{"r":9,"c":2,"v":7.4},{"r":9,"c":3,"v":7.1},{"r":9,"c":4,"v":7},{"r":9,"c":5,"v":7.1},{"r":9,"c":6,"v":7.1},{"r":9,"c":7,"v":7.2},{"r":9,"c":8,"v":7.2},{"r":9,"c":9,"v":8.6}],
"c4":[{"r":0,"c":0,"v":8.9},{"r":0,"c":1,"v":12},{"r":0,"c":2,"v":8.3},{"r":0,"c":3,"v":8.5},{"r":0,"c":4,"v":7.8},{"r":0,"c":5,"v":7.3},{"r":0,"c":6,"v":7},{"r":0,"c":7,"v":7},{"r":0,"c":8,"v":7},{"r":0,"c":9,"v":7.4},
{"r":1,"c":0,"v":8.5},{"r":1,"c":1,"v":7.3},{"r":1,"c":2,"v":6.8},{"r":1,"c":3,"v":6.6},{"r":1,"c":4,"v":6.7},{"r":1,"c":5,"v":7.6},{"r":1,"c":6,"v":6.7},{"r":1,"c":7,"v":6.6},{"r":1,"c":8,"v":6.5},{"r":1,"c":9,"v":6.6},
{"r":2,"c":0,"v":8.9},{"r":2,"c":1,"v":8.3},{"r":2,"c":2,"v":8.3},{"r":2,"c":3,"v":6.6},{"r":2,"c":4,"v":6.2},{"r":2,"c":5,"v":7.3},{"r":2,"c":6,"v":8.4},{"r":2,"c":7,"v":6.3},{"r":2,"c":8,"v":6.6},{"r":2,"c":9,"v":6.9},
{"r":3,"c":0,"v":8.6},{"r":3,"c":1,"v":9.4},{"r":3,"c":2,"v":7.6},{"r":3,"c":3,"v":6.5},{"r":3,"c":4,"v":7},{"r":3,"c":5,"v":6.5},{"r":3,"c":6,"v":6.5},{"r":3,"c":7,"v":6.8},{"r":3,"c":8,"v":7.1},{"r":3,"c":9,"v":7.1},
{"r":4,"c":0,"v":7.9},{"r":4,"c":1,"v":9.6},{"r":4,"c":2,"v":9.9},{"r":4,"c":3,"v":11},{"r":4,"c":4,"v":6.3},{"r":4,"c":5,"v":6.2},{"r":4,"c":6,"v":6.8},{"r":4,"c":7,"v":6.5},{"r":4,"c":8,"v":7},{"r":4,"c":9,"v":7},
{"r":5,"c":0,"v":7.8},{"r":5,"c":1,"v":6.4},{"r":5,"c":2,"v":6.2},{"r":5,"c":3,"v":6.1},{"r":5,"c":4,"v":6},{"r":5,"c":5,"v":6.4},{"r":5,"c":6,"v":6.2},{"r":5,"c":7,"v":6.2},{"r":5,"c":8,"v":6.5},{"r":5,"c":9,"v":6.5},
{"r":6,"c":0,"v":8.3},{"r":6,"c":1,"v":6.6},{"r":6,"c":2,"v":6.7},{"r":6,"c":3,"v":6.6},{"r":6,"c":4,"v":5.9},{"r":6,"c":5,"v":6.1},{"r":6,"c":6,"v":6},{"r":6,"c":7,"v":5.9},{"r":6,"c":8,"v":6.2},{"r":6,"c":9,"v":6.6},
{"r":7,"c":0,"v":8.1},{"r":7,"c":1,"v":7.2},{"r":7,"c":2,"v":7.3},{"r":7,"c":3,"v":7},{"r":7,"c":4,"v":6.1},{"r":7,"c":5,"v":6.3},{"r":7,"c":6,"v":6.1},{"r":7,"c":7,"v":5.9},{"r":7,"c":8,"v":6},{"r":7,"c":9,"v":7},
{"r":8,"c":0,"v":7.7},{"r":8,"c":1,"v":6.7},{"r":8,"c":2,"v":7.7},{"r":8,"c":3,"v":6.9},{"r":8,"c":4,"v":6.4},{"r":8,"c":5,"v":6.3},{"r":8,"c":6,"v":6.1},{"r":8,"c":7,"v":6.1},{"r":8,"c":8,"v":6.6},{"r":8,"c":9,"v":7.1},
{"r":9,"c":0,"v":7.8},{"r":9,"c":1,"v":7.4},{"r":9,"c":2,"v":7.1},{"r":9,"c":3,"v":6.8},{"r":9,"c":4,"v":6.6},{"r":9,"c":5,"v":6.5},{"r":9,"c":6,"v":6.5},{"r":9,"c":7,"v":6.8},{"r":9,"c":8,"v":6.8},{"r":9,"c":9,"v":8.1}]
},
"spacing":28,
"resolve":{"scale":{"color":"independent"},"legend":{"color":"independent"}},
"vconcat":[
{"spacing":9,"resolve":{"scale":{"color":"independent"},"legend":{"color":"independent"}},"vconcat":[
{"hconcat":[
{"width":696,"height":696,"data":{"name":"a1"},"title":{"text":"ST-ResNet","dx":38},
"encoding":{"x":{"field":"c","type":"ordinal","axis":null},"y":{"field":"r","type":"ordinal","axis":null}},
"layer":[{"mark":{"type":"rect","stroke":"white","strokeWidth":2},"encoding":{"color":{"field":"v","type":"quantitative","scale":{"domain":[0.4,0.432125,0.46425,0.496375,0.5285,0.560625,0.59275,0.624875,0.657],"range":["#ffffd6","#eef8ac","#c3e8ae","#5ccdb9","#00b8c8","#0596c6","#1563ae","#1f3596","#081d58"],"interpolate":"rgb"},"legend":{"title":null,"labelOffset":20,"values":[0.4,0.45,0.5,0.55,0.6,0.65],"format":".2f"}}}},
{"mark":{"type":"text","font":"DejaVu Sans","fontSize":25},"encoding":{"text":{"field":"v","type":"quantitative","format":"~g"},"color":{"condition":{"test":"datum.v >= 0.525","value":"white"},"value":"#262626"}}}]},
{"width":696,"height":696,"data":{"name":"a2"},"title":{"text":"ST-SResNet","dx":-45},
"encoding":{"x":{"field":"c","type":"ordinal","axis":null},"y":{"field":"r","type":"ordinal","axis":null}},
"layer":[{"mark":{"type":"rect","stroke":"white","strokeWidth":2},"encoding":{"color":{"field":"v","type":"quantitative","scale":{"domain":[0.388,0.416125,0.44425,0.472375,0.5005,0.528625,0.55675,0.584875,0.613],"range":["#ffffd6","#eef8ac","#c3e8ae","#5ccdb9","#00b8c8","#0596c6","#1563ae","#1f3596","#081d58"],"interpolate":"rgb"},"legend":{"title":null,"labelOffset":20,"values":[0.4,0.425,0.45,0.475,0.5,0.525,0.55,0.575,0.6],"format":".3f"}}}},
{"mark":{"type":"text","font":"DejaVu Sans","fontSize":25},"encoding":{"text":{"field":"v","type":"quantitative","format":"~g"},"color":{"condition":{"test":"datum.v >= 0.505","value":"white"},"value":"#262626"}}}]},
{"width":696,"height":696,"data":{"name":"a3"},"title":{"text":"ST-DRSN","dx":52},
"encoding":{"x":{"field":"c","type":"ordinal","axis":null},"y":{"field":"r","type":"ordinal","axis":null}},
"layer":[{"mark":{"type":"rect","stroke":"white","strokeWidth":2},"encoding":{"color":{"field":"v","type":"quantitative","scale":{"domain":[0.38,0.41,0.44,0.47,0.5,0.53,0.56,0.59,0.62],"range":["#ffffd6","#eef8ac","#c3e8ae","#5ccdb9","#00b8c8","#0596c6","#1563ae","#1f3596","#081d58"],"interpolate":"rgb"},"legend":{"title":null,"labelOffset":20,"values":[0.4,0.45,0.5,0.55,0.6],"format":".2f"}}}},
{"mark":{"type":"text","font":"DejaVu Sans","fontSize":25},"encoding":{"text":{"field":"v","type":"quantitative","format":"~g"},"color":{"condition":{"test":"datum.v >= 0.495","value":"white"},"value":"#262626"}}}]},
{"width":696,"height":696,"data":{"name":"a4"},"title":{"text":"ST-SDRSN","dx":64},
"encoding":{"x":{"field":"c","type":"ordinal","axis":null},"y":{"field":"r","type":"ordinal","axis":null}},
"layer":[{"mark":{"type":"rect","stroke":"white","strokeWidth":2},"encoding":{"color":{"field":"v","type":"quantitative","scale":{"domain":[0.37,0.39525,0.4205,0.44575,0.471,0.49625,0.5215,0.54675,0.572],"range":["#ffffd6","#eef8ac","#c3e8ae","#5ccdb9","#00b8c8","#0596c6","#1563ae","#1f3596","#081d58"],"interpolate":"rgb"},"legend":{"title":null,"labelOffset":20,"values":[0.375,0.4,0.425,0.45,0.475,0.5,0.525,0.55],"format":".3f"}}}},
{"mark":{"type":"text","font":"DejaVu Sans","fontSize":25},"encoding":{"text":{"field":"v","type":"quantitative","format":"~g"},"color":{"condition":{"test":"datum.v >= 0.465","value":"white"},"value":"#262626"}}}]}
],"spacing":180,"bounds":"flush","resolve":{"scale":{"color":"independent"},"legend":{"color":"independent"}}},
{"hconcat":[
{"width":696,"height":696,"data":{"name":"b1"},"title":{"text":"ST-ResNet","dx":38},
"encoding":{"x":{"field":"c","type":"ordinal","axis":null},"y":{"field":"r","type":"ordinal","axis":null}},
"layer":[{"mark":{"type":"rect","stroke":"white","strokeWidth":2},"encoding":{"color":{"field":"v","type":"quantitative","scale":{"domain":[0.2975,0.3213125,0.345125,0.3689375,0.39275,0.4165625,0.440375,0.4641875,0.488],"range":["#f7fcfd","#e3f5f8","#c4ebe3","#85dac6","#2cc4a2","#00ab6e","#008b42","#006d2c","#00441b"],"interpolate":"rgb"},"legend":{"title":null,"labelOffset":20,"values":[0.3,0.325,0.35,0.375,0.4,0.425,0.45,0.475],"format":".3f"}}}},
{"mark":{"type":"text","font":"DejaVu Sans","fontSize":25},"encoding":{"text":{"field":"v","type":"quantitative","format":"~g"},"color":{"condition":{"test":"datum.v >= 0.405","value":"white"},"value":"#262626"}}}]},
{"width":696,"height":696,"data":{"name":"b2"},"title":{"text":"ST-SResNet","dx":-45},
"encoding":{"x":{"field":"c","type":"ordinal","axis":null},"y":{"field":"r","type":"ordinal","axis":null}},
"layer":[{"mark":{"type":"rect","stroke":"white","strokeWidth":2},"encoding":{"color":{"field":"v","type":"quantitative","scale":{"domain":[0.2856,0.3076875,0.329775,0.3518625,0.37395,0.3960375,0.418125,0.4402125,0.4623],"range":["#f7fcfd","#e3f5f8","#c4ebe3","#85dac6","#2cc4a2","#00ab6e","#008b42","#006d2c","#00441b"],"interpolate":"rgb"},"legend":{"title":null,"labelOffset":20,"values":[0.3,0.32,0.34,0.36,0.38,0.4,0.42,0.44,0.46],"format":".2f"}}}},
{"mark":{"type":"text","font":"DejaVu Sans","fontSize":25},"encoding":{"text":{"field":"v","type":"quantitative","format":"~g"},"color":{"condition":{"test":"datum.v >= 0.385","value":"white"},"value":"#262626"}}}]},
{"width":696,"height":696,"data":{"name":"b3"},"title":{"text":"ST-DRSN","dx":52},
"encoding":{"x":{"field":"c","type":"ordinal","axis":null},"y":{"field":"r","type":"ordinal","axis":null}},
"layer":[{"mark":{"type":"rect","stroke":"white","strokeWidth":2},"encoding":{"color":{"field":"v","type":"quantitative","scale":{"domain":[0.285,0.3065,0.328,0.3495,0.371,0.3925,0.414,0.4355,0.457],"range":["#f7fcfd","#e3f5f8","#c4ebe3","#85dac6","#2cc4a2","#00ab6e","#008b42","#006d2c","#00441b"],"interpolate":"rgb"},"legend":{"title":null,"labelOffset":20,"values":[0.3,0.32,0.34,0.36,0.38,0.4,0.42,0.44],"format":".2f"}}}},
{"mark":{"type":"text","font":"DejaVu Sans","fontSize":25},"encoding":{"text":{"field":"v","type":"quantitative","format":"~g"},"color":{"condition":{"test":"datum.v >= 0.375","value":"white"},"value":"#262626"}}}]},
{"width":696,"height":696,"data":{"name":"b4"},"title":{"text":"ST-SDRSN","dx":64},
"encoding":{"x":{"field":"c","type":"ordinal","axis":null},"y":{"field":"r","type":"ordinal","axis":null}},
"layer":[{"mark":{"type":"rect","stroke":"white","strokeWidth":2},"encoding":{"color":{"field":"v","type":"quantitative","scale":{"domain":[0.277,0.2950625,0.313125,0.3311875,0.34925,0.3673125,0.385375,0.4034375,0.4215],"range":["#f7fcfd","#e3f5f8","#c4ebe3","#85dac6","#2cc4a2","#00ab6e","#008b42","#006d2c","#00441b"],"interpolate":"rgb"},"legend":{"title":null,"labelOffset":20,"values":[0.28,0.3,0.32,0.34,0.36,0.38,0.4,0.42],"format":".2f"}}}},
{"mark":{"type":"text","font":"DejaVu Sans","fontSize":25},"encoding":{"text":{"field":"v","type":"quantitative","format":"~g"},"color":{"condition":{"test":"datum.v >= 0.355","value":"white"},"value":"#262626"}}}]}
],"spacing":180,"bounds":"flush","resolve":{"scale":{"color":"independent"},"legend":{"color":"independent"}}}
]},
{"hconcat":[
{"width":696,"height":696,"data":{"name":"c1"},"title":{"text":"ST-ResNet","dx":38},
"encoding":{"x":{"field":"c","type":"ordinal","axis":null},"y":{"field":"r","type":"ordinal","axis":null}},
"layer":[{"mark":{"type":"rect","stroke":"white","strokeWidth":2},"encoding":{"color":{"field":"v","type":"quantitative","scale":{"domain":[6.1,6.855,7.61,8.365,9.12,9.875,10.63,11.385,12.14],"range":["#fcfbfd","#efedf5","#dadaeb","#bcbddc","#9e9ac8","#807dba","#6a51a3","#54278f","#3f007d"],"interpolate":"rgb"},"legend":{"title":null,"labelOffset":20,"values":[7,8,9,10,11,12],"format":"d"}}}},
{"mark":{"type":"text","font":"DejaVu Sans","fontSize":25},"encoding":{"text":{"field":"v","type":"quantitative","format":"~g"},"color":{"condition":{"test":"datum.v >= 8.75","value":"white"},"value":"#262626"}}}]},
{"width":696,"height":696,"data":{"name":"c2"},"title":{"text":"ST-SResNet","dx":-45},
"encoding":{"x":{"field":"c","type":"ordinal","axis":null},"y":{"field":"r","type":"ordinal","axis":null}},
"layer":[{"mark":{"type":"rect","stroke":"white","strokeWidth":2},"encoding":{"color":{"field":"v","type":"quantitative","scale":{"domain":[5.88,6.7875,7.695,8.6025,9.51,10.4175,11.325,12.2325,13.14],"range":["#fcfbfd","#efedf5","#dadaeb","#bcbddc","#9e9ac8","#807dba","#6a51a3","#54278f","#3f007d"],"interpolate":"rgb"},"legend":{"title":null,"labelOffset":20,"values":[6,7,8,9,10,11,12,13],"format":"d"}}}},
{"mark":{"type":"text","font":"DejaVu Sans","fontSize":25},"encoding":{"text":{"field":"v","type":"quantitative","format":"~g"},"color":{"condition":{"test":"datum.v >= 9.15","value":"white"},"value":"#262626"}}}]},
{"width":696,"height":696,"data":{"name":"c3"},"title":{"text":"ST-DRSN","dx":52},
"encoding":{"x":{"field":"c","type":"ordinal","axis":null},"y":{"field":"r","type":"ordinal","axis":null}},
"layer":[{"mark":{"type":"rect","stroke":"white","strokeWidth":2},"encoding":{"color":{"field":"v","type":"quantitative","scale":{"domain":[5.55,6.135,6.72,7.305,7.89,8.475,9.06,9.645,10.23],"range":["#fcfbfd","#efedf5","#dadaeb","#bcbddc","#9e9ac8","#807dba","#6a51a3","#54278f","#3f007d"],"interpolate":"rgb"},"legend":{"title":null,"labelOffset":20,"values":[6,7,8,9,10],"format":"d"}}}},
{"mark":{"type":"text","font":"DejaVu Sans","fontSize":25},"encoding":{"text":{"field":"v","type":"quantitative","format":"~g"},"color":{"condition":{"test":"datum.v >= 7.65","value":"white"},"value":"#262626"}}}]},
{"width":696,"height":696,"data":{"name":"c4"},"title":{"text":"ST-SDRSN","dx":64},
"encoding":{"x":{"field":"c","type":"ordinal","axis":null},"y":{"field":"r","type":"ordinal","axis":null}},
"layer":[{"mark":{"type":"rect","stroke":"white","strokeWidth":2},"encoding":{"color":{"field":"v","type":"quantitative","scale":{"domain":[5.85,6.67125,7.4925,8.31375,9.135,9.95625,10.7775,11.59875,12.42],"range":["#fcfbfd","#efedf5","#dadaeb","#bcbddc","#9e9ac8","#807dba","#6a51a3","#54278f","#3f007d"],"interpolate":"rgb"},"legend":{"title":null,"labelOffset":20,"values":[6,7,8,9,10,11,12],"format":"d"}}}},
{"mark":{"type":"text","font":"DejaVu Sans","fontSize":25},"encoding":{"text":{"field":"v","type":"quantitative","format":"~g"},"color":{"condition":{"test":"datum.v >= 8.75","value":"white"},"value":"#262626"}}}]}
],"spacing":180,"bounds":"flush","resolve":{"scale":{"color":"independent"},"legend":{"color":"independent"}}}
],
"config":{
"view":{"stroke":null},
"title":{"font":"Liberation Serif","fontSize":64,"fontWeight":"normal","color":"black","offset":5,"baseline":"alphabetic","anchor":"middle"},
"legend":{"labelFont":"DejaVu Sans","labelFontSize":24,"labelColor":"black","gradientThickness":29,"gradientLength":696,"offset":45,"gradientStrokeWidth":0,"orient":"right","direction":"vertical"}
}
}
